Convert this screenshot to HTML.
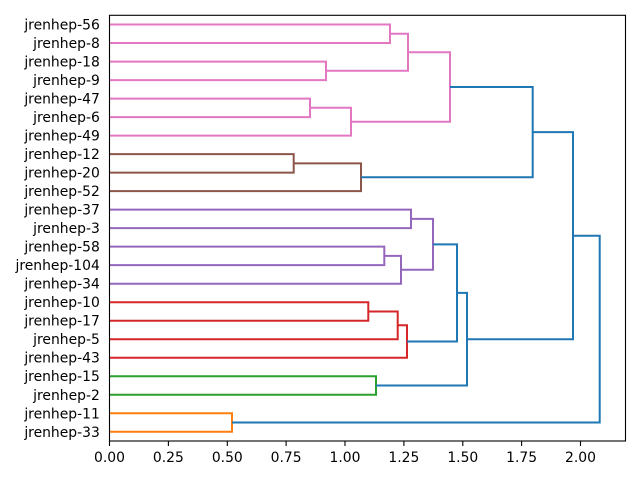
<!DOCTYPE html>
<html>
<head>
<meta charset="utf-8">
<style>
html,body{margin:0;padding:0;background:#fff;}
svg{display:block;}
text{font-family:"DejaVu Sans","Liberation Sans",sans-serif;font-size:13.9px;fill:#000;}
</style>
</head>
<body>
<svg width="640" height="480" viewBox="0 0 640 480" xmlns="http://www.w3.org/2000/svg">
<rect x="0" y="0" width="640" height="480" fill="#fff"/>
<g fill="none" stroke-width="2" stroke-linejoin="miter">
  <!-- pink -->
  <path stroke="#e377c2" d="M109.5 24.55 H390 V43.06 H109.5"/>
  <path stroke="#e377c2" d="M109.5 61.57 H326 V80.08 H109.5"/>
  <path stroke="#e377c2" d="M390 33.8 H408 V70.8 H326"/>
  <path stroke="#e377c2" d="M109.5 98.59 H310 V117.10 H109.5"/>
  <path stroke="#e377c2" d="M310 107.8 H351 V135.61 H109.5"/>
  <path stroke="#e377c2" d="M408 52.3 H450 V121.7 H351"/>
  <!-- brown -->
  <path stroke="#8c564b" d="M109.5 154.12 H293.7 V172.63 H109.5"/>
  <path stroke="#8c564b" d="M293.7 163.4 H361 V191.14 H109.5"/>
  <!-- blue -->
  <path stroke="#1f77b4" d="M450 87.0 H532.7 V177.3 H361"/>
  <!-- purple -->
  <path stroke="#9467bd" d="M109.5 209.65 H411 V228.16 H109.5"/>
  <path stroke="#9467bd" d="M109.5 246.67 H384.3 V265.18 H109.5"/>
  <path stroke="#9467bd" d="M384.3 255.9 H401 V283.69 H109.5"/>
  <path stroke="#9467bd" d="M411 218.9 H433 V269.8 H401"/>
  <!-- red -->
  <path stroke="#d62728" d="M109.5 302.2 H368.3 V320.71 H109.5"/>
  <path stroke="#d62728" d="M368.3 311.5 H397.7 V339.22 H109.5"/>
  <path stroke="#d62728" d="M397.7 325.3 H407 V357.73 H109.5"/>
  <!-- blue -->
  <path stroke="#1f77b4" d="M433 244.4 H457 V341.5 H407"/>
  <!-- green -->
  <path stroke="#2ca02c" d="M109.5 376.24 H376 V394.75 H109.5"/>
  <!-- blue -->
  <path stroke="#1f77b4" d="M457 292.9 H467 V385.5 H376"/>
  <path stroke="#1f77b4" d="M532.7 132.15 H573 V339.2 H467"/>
  <!-- orange -->
  <path stroke="#ff7f0e" d="M109.5 413.26 H232 V431.77 H109.5"/>
  <!-- blue root -->
  <path stroke="#1f77b4" d="M573 235.7 H599.7 V422.5 H232"/>
</g>
<!-- spines -->
<rect x="109.5" y="15.3" width="516" height="425.7" fill="none" stroke="#000" stroke-width="1.1"/>
<!-- x ticks -->
<g stroke="#000" stroke-width="1.1">
  <line x1="109.5" y1="441" x2="109.5" y2="446"/>
  <line x1="168.4" y1="441" x2="168.4" y2="446"/>
  <line x1="227.3" y1="441" x2="227.3" y2="446"/>
  <line x1="286.1" y1="441" x2="286.1" y2="446"/>
  <line x1="345" y1="441" x2="345" y2="446"/>
  <line x1="403.9" y1="441" x2="403.9" y2="446"/>
  <line x1="462.8" y1="441" x2="462.8" y2="446"/>
  <line x1="521.6" y1="441" x2="521.6" y2="446"/>
  <line x1="580.5" y1="441" x2="580.5" y2="446"/>
</g>
<g text-anchor="middle">
  <text x="109.5" y="462">0.00</text>
  <text x="168.4" y="462">0.25</text>
  <text x="227.3" y="462">0.50</text>
  <text x="286.1" y="462">0.75</text>
  <text x="345" y="462">1.00</text>
  <text x="403.9" y="462">1.25</text>
  <text x="462.8" y="462">1.50</text>
  <text x="521.6" y="462">1.75</text>
  <text x="580.5" y="462">2.00</text>
</g>
<!-- y labels -->
<g text-anchor="end">
  <text x="99.8" y="29.6">jrenhep-56</text>
  <text x="99.8" y="48.1">jrenhep-8</text>
  <text x="99.8" y="66.6">jrenhep-18</text>
  <text x="99.8" y="85.1">jrenhep-9</text>
  <text x="99.8" y="103.6">jrenhep-47</text>
  <text x="99.8" y="122.1">jrenhep-6</text>
  <text x="99.8" y="140.6">jrenhep-49</text>
  <text x="99.8" y="159.1">jrenhep-12</text>
  <text x="99.8" y="177.6">jrenhep-20</text>
  <text x="99.8" y="196.1">jrenhep-52</text>
  <text x="99.8" y="214.7">jrenhep-37</text>
  <text x="99.8" y="233.2">jrenhep-3</text>
  <text x="99.8" y="251.7">jrenhep-58</text>
  <text x="99.8" y="270.2">jrenhep-104</text>
  <text x="99.8" y="288.7">jrenhep-34</text>
  <text x="99.8" y="307.2">jrenhep-10</text>
  <text x="99.8" y="325.7">jrenhep-17</text>
  <text x="99.8" y="344.2">jrenhep-5</text>
  <text x="99.8" y="362.7">jrenhep-43</text>
  <text x="99.8" y="381.2">jrenhep-15</text>
  <text x="99.8" y="399.8">jrenhep-2</text>
  <text x="99.8" y="418.3">jrenhep-11</text>
  <text x="99.8" y="436.8">jrenhep-33</text>
</g>
</svg>
</body>
</html>
